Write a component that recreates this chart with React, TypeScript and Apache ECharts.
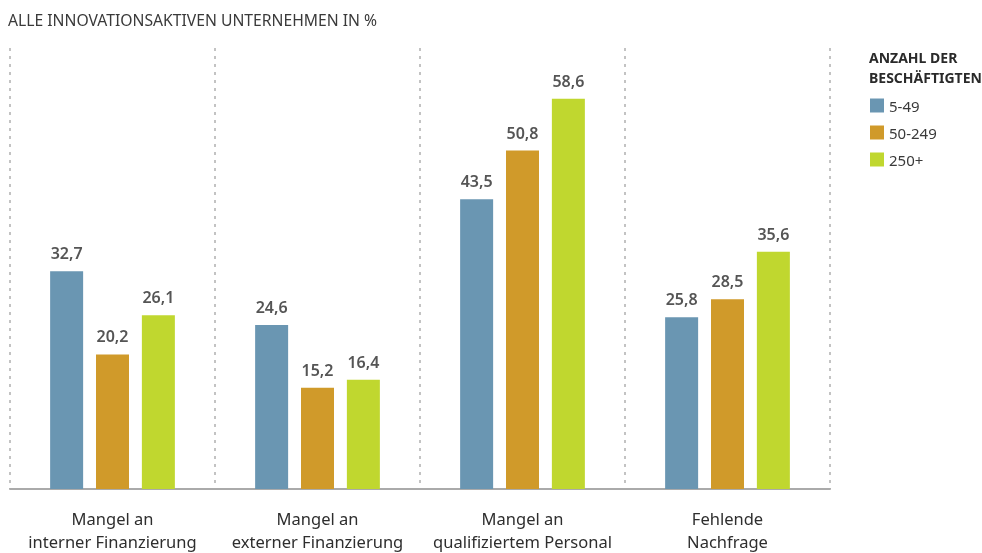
import React, { useEffect, useRef } from "react";
import * as echarts from "echarts";

const categories = [
  "Mangel an\ninterner Finanzierung",
  "Mangel an\nexterner Finanzierung",
  "Mangel an\nqualifiziertem Personal",
  "Fehlende\nNachfrage",
];
const seriesNames = ["5-49", "50-249", "250+"];
const values5to49 = [32.7, 24.6, 43.5, 25.8];
const values50to249 = [20.2, 15.2, 50.8, 28.5];
const values250plus = [26.1, 16.4, 58.6, 35.6];
const colors = ["#6a96b2", "#d09a2a", "#c0d72f"];

const FONT = "'Noto Sans', 'Open Sans', sans-serif";

export default function App() {
  const ref = useRef<HTMLDivElement>(null);
  useEffect(() => {
    if (!ref.current) return;
    const chart = echarts.init(ref.current, undefined, { renderer: "svg" });
    const data = [values5to49, values50to249, values250plus];
    const fmt = (p: any) => Number(p.value).toFixed(1).replace(".", ",");
    chart.setOption({
      animation: false,
      textStyle: { fontFamily: FONT },
      title: {
        text: "ALLE INNOVATIONSAKTIVEN UNTERNEHMEN IN %",
        left: 3,
        top: 7,
        textStyle: { fontFamily: FONT, fontSize: 15.7, fontWeight: "normal", color: "#3a3a3a" },
      },
      graphic: [
        {
          type: "text",
          left: 869,
          top: 47,
          style: {
            text: "ANZAHL DER\nBESCHÄFTIGTEN",
            font: `bold 14px ${FONT}`,
            fill: "#2a2a2a",
            lineHeight: 20,
          },
        },
      ],
      legend: {
        orient: "vertical",
        left: 865,
        top: 93,
        itemWidth: 14,
        itemHeight: 14,
        itemGap: 12,
        icon: "rect",
        data: seriesNames,
        textStyle: { fontFamily: FONT, fontSize: 15, color: "#3a3a3a" },
      },
      grid: { left: 10, right: 152, top: 48, bottom: 58 },
      xAxis: {
        type: "category",
        data: categories,
        axisLine: { show: true, lineStyle: { color: "#aaaaaa", width: 2 } },
        axisTick: { show: false },
        splitLine: {
          show: true,
          lineStyle: { color: "#b0b0b0", type: [3, 5], width: 1.5 },
        },
        axisLabel: {
          interval: 0,
          margin: 18,
          fontFamily: FONT,
          fontSize: 16.5,
          color: "#2e2e2e",
          lineHeight: 23,
        },
      },
      yAxis: {
        type: "value",
        min: 0,
        max: 66.2,
        show: false,
        splitLine: { show: false },
      },
      series: seriesNames.map((name, i) => ({
        name,
        type: "bar",
        data: data[i],
        barWidth: 33,
        barGap: "39%",
        barCategoryGap: "39%",
        itemStyle: { color: colors[i] },
        label: {
          show: true,
          position: "top",
          distance: 10,
          formatter: fmt,
          fontFamily: FONT,
          fontSize: 16,
          fontWeight: 600,
          color: "#555555",
        },
      })),
    });
    return () => chart.dispose();
  }, []);
  return (
    <div
      ref={ref}
      style={{ position: "fixed", left: 0, top: 0, width: 982, height: 553 }}
    />
  );
}
